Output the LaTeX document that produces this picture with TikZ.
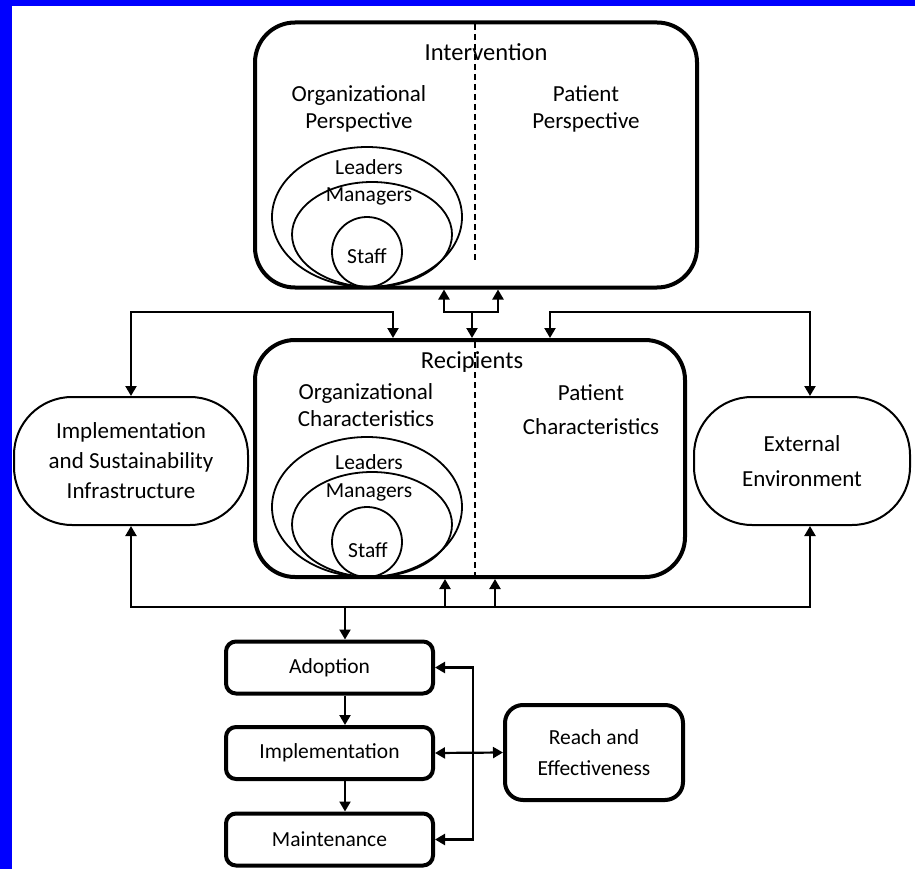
\documentclass[tikz,border=0pt]{standalone}
\usepackage{fontspec}
\setmainfont{Carlito}
\usepackage{tikz}
\usetikzlibrary{arrows.meta}

\begin{document}
\begin{tikzpicture}[x=1pt,y=-1pt,
    font=\fontsize{23}{28}\selectfont,
    head/.style={font=\fontsize{24.5}{28}\selectfont},
    small/.style={font=\fontsize{21.5}{28}\selectfont},
    bigbox/.style={draw, line width=4pt, rounded corners=40pt},
    pill/.style={draw, line width=2pt, rounded corners=58pt, align=center, minimum height=128pt},
    stage/.style={draw, small, line width=4pt, rounded corners=10pt, minimum width=207pt, minimum height=52pt},
    conn/.style={line width=2.2pt, -{Triangle[length=10pt,width=11pt]}},
    both/.style={line width=2.2pt, {Triangle[length=10pt,width=11pt]}-{Triangle[length=10pt,width=11pt]}},
    split/.style={line width=1.3pt, dash pattern=on 6pt off 4pt},
    ring/.style={line width=1.8pt}]
    \useasboundingbox (0,0) rectangle (915,869);
    \fill[blue] (0,0) rectangle (915,6);
    \fill[blue] (0,0) rectangle (12,869);

    \node[bigbox, minimum width=442pt, minimum height=265pt] (interv) at (476,155) {};
    \node[bigbox, minimum width=430pt, minimum height=237pt] (recip) at (470,458.5) {};
    \draw[split] (475,24) -- (475,262);
    \draw[split] (475,342) -- (475,577);

    \node[head] (intvlabel) at (486,52) {Intervention};
    \node[align=center] (orgpersp) at (359,108.5) {Organizational\\[-1pt]Perspective};
    \node[align=center] (patpersp) at (586,108.5) {Patient\\[-1pt]Perspective};
    \draw[ring] (367,217) ellipse [x radius=95pt, y radius=70pt];
    \draw[ring] (372,234.5) ellipse [x radius=80pt, y radius=52.5pt];
    \draw[ring] (367,252) circle [radius=35pt];
    \node[small] (leadtop) at (369,167) {Leaders};
    \node[small] (mantop) at (369,196) {Managers};
    \node[small] (stafftop) at (367,256) {Staff};

    \node[head] (reclabel) at (472,362) {Recipients};
    \node[align=center] (orgchar) at (366,405.5) {Organizational\\[-1pt]Characteristics};
    \node[align=center] (patchar) at (591,410) {Patient\\[6pt]Characteristics};
    \draw[ring] (367,507) ellipse [x radius=95pt, y radius=70pt];
    \draw[ring] (372,524.5) ellipse [x radius=80pt, y radius=52.5pt];
    \draw[ring] (367,542) circle [radius=35pt];
    \node[small] (leadmid) at (369,462) {Leaders};
    \node[small] (manmid) at (369,492) {Managers};
    \node[small] (staffmid) at (368,550) {Staff};

    \node[pill, minimum width=234pt] (infra) at (131,461) {Implementation\\[2pt]and Sustainability\\[2pt]Infrastructure};
    \node[pill, minimum width=216pt] (extern) at (802,461) {External\\[7pt]Environment};

    \node[stage] (adopt) at (329.5,667.5) {Adoption};
    \node[stage] (implem) at (329.5,753) {Implementation};
    \node[stage] (maint) at (329.5,839.5) {Maintenance};
    \node[draw, small, line width=4pt, rounded corners=18pt, minimum width=178pt, minimum height=95pt, align=center] (reach) at (594,752.5) {Reach and\\[3pt]Effectiveness};

    \coordinate (ul) at (393,312);
    \coordinate (um) at (472,312);
    \coordinate (ua) at (444,312);
    \coordinate (ub) at (498,312);
    \coordinate (ur) at (550,312);
    \coordinate (ue) at (810,312);
    \coordinate (de) at (810,607);
    \coordinate (da) at (445,607);
    \coordinate (db) at (495,607);
    \coordinate (dd) at (345,607);
    \coordinate (fb) at (473,753);

    \draw[both] (infra.north) |- (ul) -- (ul |- recip.north);
    \draw[conn] (um) -- (um |- recip.north);
    \draw[both] (ua |- interv.south) -- (ua) -- (ub) -- (ub |- interv.south);
    \draw[both] (ur |- recip.north) -- (ur) -- (ue) -- (ue |- extern.north);

    \draw[both] (infra.south) |- (de) -- (de |- extern.south);
    \draw[conn] (da) -- (da |- recip.south);
    \draw[conn] (db) -- (db |- recip.south);
    \draw[conn] (dd) -- (dd |- adopt.north);
    \draw[conn] (adopt.south -| dd) -- (implem.north -| dd);
    \draw[conn] (implem.south -| dd) -- (maint.north -| dd);
    \draw[both] (adopt.east) -| (fb) |- (maint.east);
    \draw[both] (implem.east) -- (reach.west);
\end{tikzpicture}
\end{document}
